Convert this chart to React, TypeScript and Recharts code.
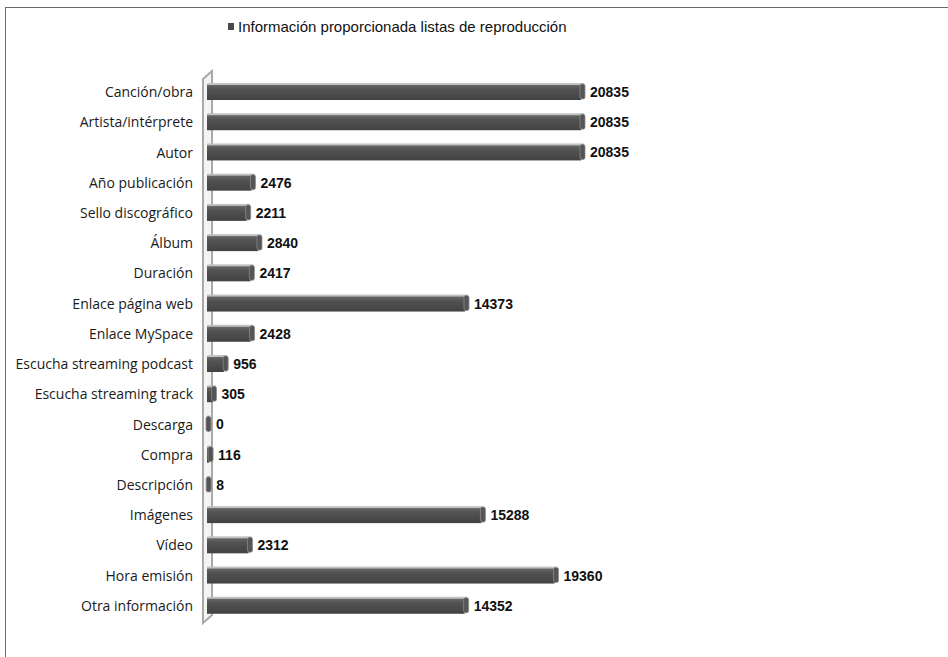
import {
  Bar,
  BarChart,
  LabelList,
  Legend,
  ReferenceArea,
  XAxis,
  YAxis,
} from "recharts";

const categories = [
  "Canción/obra",
  "Artista/intérprete",
  "Autor",
  "Año publicación",
  "Sello discográfico",
  "Álbum",
  "Duración",
  "Enlace página web",
  "Enlace MySpace",
  "Escucha streaming podcast",
  "Escucha streaming track",
  "Descarga",
  "Compra",
  "Descripción",
  "Imágenes",
  "Vídeo",
  "Hora emisión",
  "Otra información",
];

const values = [
  20835, 20835, 20835, 2476, 2211, 2840, 2417, 14373, 2428, 956, 305, 0, 116,
  8, 15288, 2312, 19360, 14352,
];

const seriesName = "Información proporcionada listas de reproducción";

const data = categories.map((name, i) => ({ name, v: values[i] }));

// bar with a faux 3D look: light top face, dark front, rounded end cap
const Bar3D = (props: any) => {
  const { x, y, width, height } = props;
  const w = Math.max(0, width);
  return (
    <g>
      <rect x={x} y={y - 2} width={w + 3} height={3} fill="#c2c2c2" />
      <rect x={x} y={y} width={w} height={height + 1} fill="url(#barFace)" />
      <rect
        x={x + w - 1}
        y={y - 1}
        width={5}
        height={height + 1}
        rx={2}
        fill="#555"
        stroke="#8a8a8a"
        strokeWidth={0.8}
      />
    </g>
  );
};

// the thin back wall standing behind the bar bases
const Wall = (props: any) => {
  const { x, y, height } = props;
  const pts = [
    [x - 4, y + 2],
    [x + 5, y - 6],
    [x + 5, y + height - 6],
    [x - 4, y + height + 2],
  ]
    .map((p) => p.join(","))
    .join(" ");
  return (
    <polygon points={pts} fill="#f4f4f4" stroke="#a9a9a9" strokeWidth={2} />
  );
};

// zero-height wrapper so the legend doesn't eat into the plot area
const LegendBox = () => (
  <div style={{ height: 0, overflow: "visible" }}>
    <div
      style={{
        display: "flex",
        alignItems: "center",
        fontFamily: "'Liberation Sans', Arial, sans-serif",
        fontSize: 15,
        color: "#111",
        whiteSpace: "nowrap",
      }}
    >
      <span
        style={{
          display: "inline-block",
          width: 6,
          height: 7,
          background: "#4a4a4a",
          marginRight: 4,
        }}
      />
      {seriesName}
    </div>
  </div>
);

const App = () => {
  return (
    <div
      style={{
        position: "absolute",
        left: 0,
        top: 0,
        width: 948,
        height: 657,
        overflow: "hidden",
        background: "#fff",
      }}
    >
      <div
        style={{
          position: "absolute",
          left: 5,
          top: 7,
          width: 1000,
          height: 700,
          borderLeft: "1.5px solid #6a6a6a",
          borderTop: "1.5px solid #6a6a6a",
        }}
      />
      <div style={{ position: "absolute", left: 0, top: 0 }}>
        <BarChart
          width={948}
          height={657}
          data={data}
          layout="vertical"
          barSize={14}
          margin={{ top: 77, right: 367, bottom: 36, left: 0 }}
        >
          <defs>
            <linearGradient id="barFace" x1="0" y1="0" x2="0" y2="1">
              <stop offset="0%" stopColor="#666" />
              <stop offset="30%" stopColor="#525252" />
              <stop offset="100%" stopColor="#424242" />
            </linearGradient>
          </defs>
          <XAxis type="number" hide domain={[0, 20835]} />
          <YAxis
            type="category"
            dataKey="name"
            width={207}
            axisLine={false}
            tickLine={false}
            tickSize={0}
            tickMargin={14}
            interval={0}
            tick={{
              fontFamily: "'Open Sans', sans-serif",
              fontSize: 14,
              fill: "#1a1a1a",
            }}
          />
          <ReferenceArea
            x1={0}
            x2={100}
            ifOverflow="visible"
            shape={(p: any) => <Wall {...p} />}
          />
          <Legend
            content={() => <LegendBox />}
            wrapperStyle={{ top: 18, left: 228, width: "auto", height: 0 }}
          />
          <Bar
            dataKey="v"
            name={seriesName}
            fill="#4a4a4a"
            shape={(p: any) => <Bar3D {...p} />}
            isAnimationActive={false}
          >
            <LabelList
              dataKey="v"
              position="right"
              offset={9}
              style={{
                fontFamily: "'Liberation Sans', Arial, sans-serif",
                fontSize: 14,
                fontWeight: 700,
                fill: "#111",
              }}
            />
          </Bar>
        </BarChart>
      </div>
    </div>
  );
};

export default App;
